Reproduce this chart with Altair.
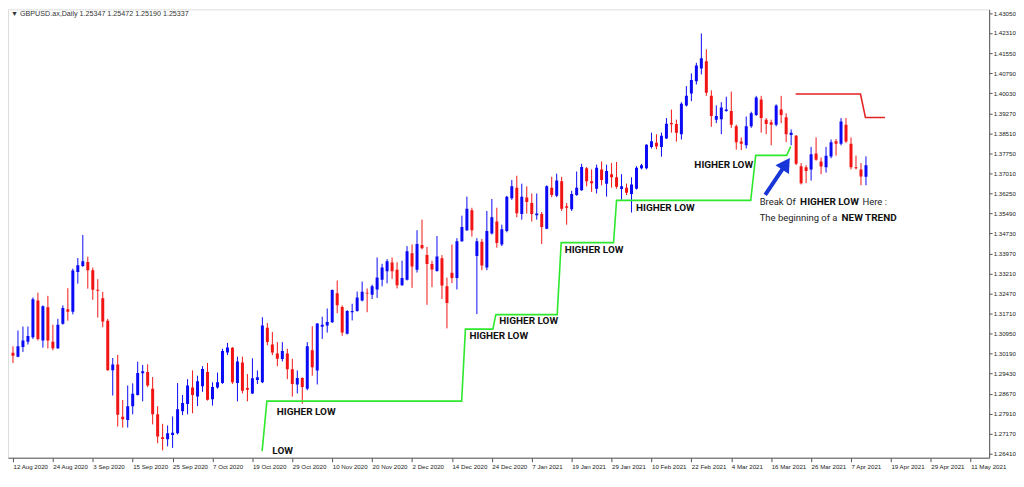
import altair as alt
import pandas as pd

# ---- candle data (bar index 0 = 12 Aug 2020) ----
opens = [1.3022,1.3007,1.3044,1.3063,1.3080,1.3219,1.3068,1.3194,1.3063,1.3039,
         1.3131,1.3186,1.3177,1.3327,1.3350,1.3365,1.3334,1.3260,1.3228,1.3143,
         1.2956,1.2977,1.2780,1.2768,1.2820,1.2862,1.2944,1.2949,1.2886,1.2789,
         1.2702,1.2695,1.2711,1.2717,1.2801,1.2828,1.2890,1.2856,1.2895,1.2949,
         1.2846,1.2890,1.2907,1.3023,1.3041,1.2907,1.2985,1.2889,1.2868,1.2919,
         1.2910,1.3116,1.3053,1.3019,1.2998,1.3019,1.2959,1.2902,1.2926,1.2886,
         1.3031,1.2955,1.3120,1.3125,1.3137,1.3247,1.3195,1.3094,1.3175,1.3180,
         1.3219,1.3249,1.3241,1.3261,1.3298,1.3330,1.3363,1.3336,1.3277,1.3298,
         1.3398,1.3336,1.3429,1.3391,1.3357,1.3331,1.3379,1.3273,1.3324,1.3304,
         1.3443,1.3485,1.3561,1.3388,1.3441,1.3344,1.3473,1.3518,1.3431,1.3482,
         1.3606,1.3646,1.3546,1.3609,1.3588,1.3542,1.3546,1.3491,1.3646,1.3615,
         1.3670,1.3576,1.3564,1.3618,1.3636,1.3719,1.3670,1.3642,1.3715,1.3661,
         1.3697,1.3685,1.3641,1.3646,1.3622,1.3642,1.3719,1.3719,1.3800,1.3816,
         1.3800,1.3832,1.3890,1.3887,1.3848,1.3957,1.4002,1.4048,1.4096,1.4124,
         1.3993,1.3903,1.3905,1.3936,1.3936,1.3878,1.3820,1.3806,1.3878,1.3921,
         1.3979,1.3903,1.3893,1.3884,1.3941,1.3912,1.3845,1.3842,1.3727,1.3723,
         1.3715,1.3775,1.3745,1.3723,1.3764,1.3821,1.3812,1.3884,1.3812,1.3723,
         1.3715,1.3687]
highs = [1.3046,1.3106,1.3121,1.3121,1.3231,1.3249,1.3201,1.3237,1.3128,1.3150,
         1.3201,1.3266,1.3340,1.3380,1.3467,1.3385,1.3344,1.3300,1.3252,1.3150,
         1.3002,1.3014,1.2843,1.2898,1.2906,1.2988,1.2976,1.2978,1.2930,1.2820,
         1.2753,1.2747,1.2781,1.2907,1.2862,1.2922,1.2955,1.2935,1.2971,1.2983,
         1.2910,1.2947,1.3037,1.3059,1.3043,1.3007,1.3007,1.2941,1.3001,1.2955,
         1.3156,1.3134,1.3100,1.3062,1.3062,1.3037,1.2999,1.2955,1.2929,1.3062,
         1.3122,1.3134,1.3158,1.3189,1.3261,1.3295,1.3201,1.3183,1.3207,1.3253,
         1.3291,1.3265,1.3279,1.3382,1.3358,1.3376,1.3382,1.3364,1.3370,1.3425,
         1.3431,1.3485,1.3525,1.3422,1.3370,1.3463,1.3391,1.3306,1.3431,1.3455,
         1.3540,1.3612,1.3570,1.3455,1.3452,1.3558,1.3603,1.3570,1.3506,1.3615,
         1.3675,1.3691,1.3661,1.3651,1.3624,1.3624,1.3554,1.3655,1.3687,1.3699,
         1.3687,1.3588,1.3634,1.3707,1.3736,1.3724,1.3715,1.3733,1.3745,1.3733,
         1.3739,1.3743,1.3697,1.3661,1.3685,1.3727,1.3736,1.3810,1.3854,1.3848,
         1.3854,1.3909,1.3941,1.3903,1.3969,1.4030,1.4078,1.4118,1.4229,1.4169,
         1.4014,1.3957,1.3969,1.3990,1.4009,1.3884,1.3836,1.3915,1.3933,1.3993,
         1.3993,1.3909,1.3903,1.3961,1.3993,1.3927,1.3866,1.3845,1.3739,1.3731,
         1.3800,1.3836,1.3760,1.3800,1.3828,1.3830,1.3909,1.3909,1.3836,1.3767,
         1.3739,1.3764]
lows = [1.2983,1.3005,1.3025,1.3053,1.3074,1.3068,1.3041,1.3038,1.3031,1.3036,
        1.3128,1.3143,1.3167,1.3283,1.3346,1.3264,1.3222,1.3155,1.3118,1.2954,
        1.2860,1.2743,1.2739,1.2739,1.2789,1.2860,1.2838,1.2892,1.2751,1.2680,
        1.2653,1.2668,1.2662,1.2713,1.2786,1.2789,1.2793,1.2820,1.2874,1.2841,
        1.2822,1.2886,1.2904,1.3013,1.2904,1.2838,1.2868,1.2838,1.2866,1.2904,
        1.2907,1.3050,1.3013,1.2971,1.2989,1.2922,1.2856,1.2868,1.2829,1.2880,
        1.2935,1.2902,1.3074,1.3098,1.3134,1.3171,1.3086,1.3091,1.3144,1.3177,
        1.3216,1.3175,1.3225,1.3229,1.3273,1.3284,1.3301,1.3265,1.3275,1.3295,
        1.3267,1.3325,1.3413,1.3203,1.3270,1.3328,1.3225,1.3114,1.3285,1.3261,
        1.3441,1.3482,1.3461,1.3168,1.3334,1.3334,1.3469,1.3419,1.3425,1.3477,
        1.3600,1.3534,1.3525,1.3548,1.3518,1.3525,1.3433,1.3489,1.3610,1.3610,
        1.3558,1.3506,1.3558,1.3615,1.3634,1.3651,1.3630,1.3624,1.3655,1.3612,
        1.3646,1.3642,1.3600,1.3618,1.3552,1.3639,1.3715,1.3715,1.3794,1.3791,
        1.3763,1.3830,1.3854,1.3820,1.3828,1.3953,1.3973,1.4036,1.4074,1.3993,
        1.3876,1.3890,1.3848,1.3933,1.3872,1.3790,1.3788,1.3794,1.3872,1.3917,
        1.3854,1.3848,1.3806,1.3878,1.3890,1.3818,1.3806,1.3731,1.3658,1.3663,
        1.3673,1.3748,1.3697,1.3703,1.3757,1.3767,1.3806,1.3815,1.3715,1.3715,
        1.3655,1.3655]
closes = [1.3010,1.3046,1.3068,1.3085,1.3224,1.3074,1.3198,1.3068,1.3039,1.3128,
          1.3191,1.3177,1.3333,1.3353,1.3368,1.3334,1.3260,1.3256,1.3140,1.2956,
          1.2977,1.2787,1.2770,1.2820,1.2867,1.2945,1.2952,1.2898,1.2789,1.2705,
          1.2696,1.2717,1.2719,1.2808,1.2832,1.2898,1.2862,1.2914,1.2960,1.2844,
          1.2892,1.2910,1.3028,1.3042,1.2910,1.2989,1.2878,1.2882,1.2925,1.2929,
          1.3125,1.3062,1.3023,1.2999,1.3028,1.2959,1.2904,1.2926,1.2892,1.3046,
          1.2967,1.3132,1.3128,1.3138,1.3259,1.3201,1.3098,1.3180,1.3180,1.3231,
          1.3252,1.3246,1.3273,1.3306,1.3344,1.3368,1.3330,1.3277,1.3304,1.3406,
          1.3348,1.3433,1.3417,1.3357,1.3337,1.3386,1.3276,1.3210,1.3304,1.3443,
          1.3497,1.3566,1.3485,1.3443,1.3352,1.3482,1.3534,1.3437,1.3489,1.3612,
          1.3651,1.3549,1.3612,1.3592,1.3546,1.3548,1.3497,1.3651,1.3618,1.3673,
          1.3566,1.3570,1.3622,1.3646,1.3724,1.3670,1.3663,1.3721,1.3675,1.3709,
          1.3685,1.3649,1.3651,1.3627,1.3658,1.3721,1.3731,1.3808,1.3821,1.3802,
          1.3842,1.3888,1.3886,1.3854,1.3963,1.3993,1.4053,1.4108,1.4135,1.4005,
          1.3917,1.3917,1.3949,1.3941,1.3884,1.3818,1.3812,1.3878,1.3927,1.3987,
          1.3909,1.3887,1.3884,1.3957,1.3921,1.3848,1.3854,1.3736,1.3663,1.3709,
          1.3772,1.3751,1.3726,1.3767,1.3818,1.3812,1.3896,1.3820,1.3723,1.3719,
          1.3688,1.3731]

x_labels = ["12 Aug 2020", "24 Aug 2020", "3 Sep 2020", "15 Sep 2020", "25 Sep 2020",
            "7 Oct 2020", "19 Oct 2020", "29 Oct 2020", "10 Nov 2020", "20 Nov 2020",
            "2 Dec 2020", "14 Dec 2020", "24 Dec 2020", "7 Jan 2021", "19 Jan 2021",
            "29 Jan 2021", "10 Feb 2021", "22 Feb 2021", "4 Mar 2021", "16 Mar 2021",
            "26 Mar 2021", "7 Apr 2021", "19 Apr 2021", "29 Apr 2021", "11 May 2021"]
bars_per_label = 8
y_ticks = [1.26410, 1.27170, 1.27910, 1.28670, 1.29430, 1.30190, 1.30950, 1.31710,
           1.32470, 1.33210, 1.33970, 1.34730, 1.35490, 1.36250, 1.37010, 1.37750,
           1.38510, 1.39270, 1.40030, 1.40790, 1.41550, 1.42310, 1.43050]

# support line (green steps) and resistance line (red), in bar index / price
green_i = [49.95, 50.9, 89.95, 90.7, 96.2, 96.8, 109.1, 109.9, 120.4, 121.0, 147.9, 148.9, 155.1, 155.9]
green_p = [1.2650, 1.2839, 1.2839, 1.3111, 1.3111, 1.3166, 1.3166, 1.3438, 1.3438, 1.3598, 1.3598, 1.3768, 1.3768, 1.3801]
red_i = [156.9, 169.9, 170.9, 174.8]
red_p = [1.4000, 1.4000, 1.3911, 1.3911]

# annotation labels
bold_text = ["LOW", "HIGHER LOW", "HIGHER LOW", "HIGHER LOW", "HIGHER LOW", "HIGHER LOW", "HIGHER LOW",
             "HIGHER LOW", "NEW TREND"]
bold_i = [52.0, 52.9, 91.5, 97.5, 110.6, 124.9, 136.6, 157.8, 166.1]
bold_p = [1.2652, 1.2799, 1.3086, 1.3140, 1.3409, 1.3569, 1.3732, 1.3590, 1.3530]
norm_text = ["Break Of", "Here :", "The beginning of a"]
norm_i = [149.7, 170.3, 149.7]
norm_p = [1.3590, 1.3590, 1.3530]

arrow_i = [150.8, 154.97]
arrow_p = [1.3619, 1.3736]

header = "\u25BC  GBPUSD.ax,Daily  1.25347 1.25472 1.25190 1.25337"

# ---- build tables ----
df = pd.DataFrame({"i": list(range(len(opens))), "open": opens, "high": highs,
                   "low": lows, "close": closes})
df["dir"] = ["up" if c >= o else "down" for o, c in zip(opens, closes)]

xscale = alt.Scale(domain=[0, 194.7], nice=False, zero=False)
yscale = alt.Scale(domain=[1.2625, 1.4320], nice=False, zero=False)
color = alt.Color("dir:N", scale=alt.Scale(domain=["up", "down"], range=["#0a0af5", "#f21414"]), legend=None)

axis_font = "Liberation Sans"
labels_js = "[" + ",".join("'" + s + "'" for s in x_labels) + "]"
x_axis = alt.Axis(values=[bars_per_label * k for k in range(len(x_labels))],
                  labelExpr=labels_js + "[round(datum.value / " + str(bars_per_label) + ")]",
                  labelAlign="left", labelPadding=2, tickSize=4, title=None, grid=False,
                  labelFont=axis_font, labelFontSize=6.2, labelColor="#222",
                  domainColor="#555", tickColor="#555", labelOverlap=False)
y_axis = alt.Axis(orient="right", values=y_ticks, format=".5f", tickSize=3, labelPadding=1,
                  title=None, grid=False, labelFont=axis_font, labelFontSize=6.2,
                  labelColor="#222", domainColor="#555", tickColor="#555", labelOverlap=False)

# every layer carries the same axis definition so the merged axes keep all ticks
X = lambda f: alt.X(f, scale=xscale, axis=x_axis)
Y = lambda f: alt.Y(f, scale=yscale, axis=y_axis)

base = alt.Chart(df)
wicks = base.mark_rule(strokeWidth=1, clip=True).encode(
    x=X("i:Q"), y=Y("low:Q"), y2="high:Q", color=color,
)
bodies = base.mark_bar(size=3, clip=True).encode(
    x=X("i:Q"), y=Y("open:Q"), y2="close:Q", color=color,
)

green = alt.Chart(pd.DataFrame({"i": green_i, "p": green_p, "o": list(range(len(green_i)))})).mark_line(
    color="#2ee82e", strokeWidth=1.6).encode(x=X("i:Q"), y=Y("p:Q"), order="o:Q")
red = alt.Chart(pd.DataFrame({"i": red_i, "p": red_p, "o": list(range(len(red_i)))})).mark_line(
    color="#e32222", strokeWidth=1.6).encode(x=X("i:Q"), y=Y("p:Q"), order="o:Q")

arrow_line = alt.Chart(pd.DataFrame({"i": arrow_i, "p": arrow_p})).mark_line(
    color="#1836d8", strokeWidth=4).encode(x=X("i:Q"), y=Y("p:Q"))
arrow_head = alt.Chart(pd.DataFrame({"i": arrow_i[1:], "p": arrow_p[1:]})).mark_point(
    shape="triangle-up", filled=True, color="#1836d8", opacity=1, size=260, angle=33).encode(
    x=X("i:Q"), y=Y("p:Q"))

bold = alt.Chart(pd.DataFrame({"t": bold_text, "i": bold_i, "p": bold_p})).mark_text(
    align="left", baseline="middle", font="Roboto", fontWeight="bold", fontSize=10, color="#111").encode(
    x=X("i:Q"), y=Y("p:Q"), text="t:N")
norm = alt.Chart(pd.DataFrame({"t": norm_text, "i": norm_i, "p": norm_p})).mark_text(
    align="left", baseline="middle", font="Roboto", fontSize=9.5, color="#222").encode(
    x=X("i:Q"), y=Y("p:Q"), text="t:N")

head = alt.Chart(pd.DataFrame({"t": [header]})).mark_text(
    align="left", baseline="top", font=axis_font, fontSize=7.2, color="#333").encode(
    x=alt.value(3), y=alt.value(1), text="t:N")

chart = alt.layer(wicks, bodies, green, red, arrow_line, arrow_head, bold, norm, head).properties(
    width=1014, height=464, padding=0,
    autosize=alt.AutoSizeParams(type="fit", contains="padding"),
).configure_axis(labelOverlap=False).configure_view(stroke="#888", strokeWidth=1).configure(background="white")

chart.save("out.html", embed_options={"renderer": "svg", "actions": False})
